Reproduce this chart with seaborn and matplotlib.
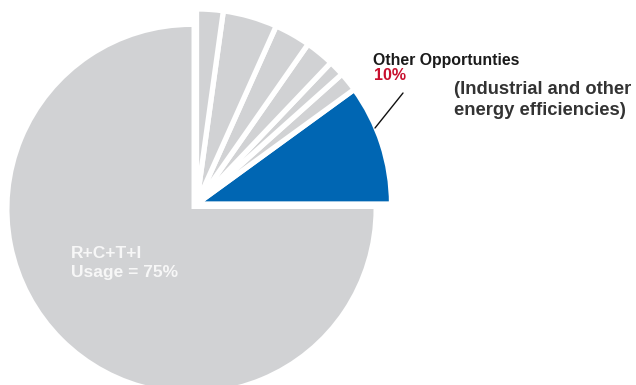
import matplotlib
matplotlib.use("Agg")
import matplotlib.pyplot as plt
import seaborn as sns

# Shares of the energy-savings pie (percent). The small opportunity slices run
# counterclockwise from 3 o'clock; the usage slice fills the remaining three quarters.
opportunity_shares = [10, 1.6, 1.3, 2.4, 3.0, 4.5, 2.2]
usage_share = 75
highlight_label = "Other Opportunties"
highlight_value = "10%"
highlight_note = "(Industrial and other\nenergy efficiencies)"
usage_label = "R+C+T+I\nUsage = 75%"

GRAY = "#d1d2d4"
BLUE = "#0066b3"
RED = "#c8102e"

sns.set_theme(style="white")
plt.rcParams["font.family"] = ["Liberation Sans", "DejaVu Sans"]

W, H = 636, 385
fig = plt.figure(figsize=(W / 100, H / 100), dpi=100)
ax = fig.add_axes([0, 0, 1, 1])

values = opportunity_shares + [usage_share]
n_small = len(opportunity_shares)

# Large usage slice (the small shares are left unfilled here)
usage_colors = ["none"] * n_small + [GRAY]
ax.pie(values, colors=usage_colors, startangle=0, counterclock=True,
       center=(191.5, H - 209), radius=182,
       wedgeprops=dict(linewidth=0, edgecolor="none"))

# Small opportunity slices, pulled out as a group and separated by white gaps
small_colors = [BLUE] + [GRAY] * (n_small - 1) + ["none"]
wedges, _ = ax.pie(values, colors=small_colors, startangle=0, counterclock=True,
                   center=(196.5, H - 204), radius=195,
                   wedgeprops=dict(linewidth=3.8, edgecolor="white",
                                   joinstyle="round"))
wedges[-1].set_edgecolor("none")
wedges[-1].set_linewidth(0)

ax.set_xlim(0, W)
ax.set_ylim(0, H)
ax.set_aspect("equal")
ax.axis("off")

# Callout for the highlighted slice
ax.plot([375, 403], [H - 128, H - 93], color="#111111", linewidth=1.0)
ax.text(373, H - 61, highlight_label, fontsize=11.4, fontweight="bold",
        color="#1a1a1a", ha="left", va="center")
ax.text(374, H - 76, highlight_value, fontsize=11.5, fontweight="bold",
        color=RED, ha="left", va="center")
ax.text(454, H - 100, highlight_note, fontsize=13.2, fontweight="bold",
        color="#333333", ha="left", va="center", linespacing=1.35)

# Label inside the usage slice
ax.text(71, H - 263, usage_label, fontsize=12.5, fontweight="bold",
        color="#f7f7f7", ha="left", va="center", linespacing=1.25)

fig.savefig("out.png", dpi=100)
